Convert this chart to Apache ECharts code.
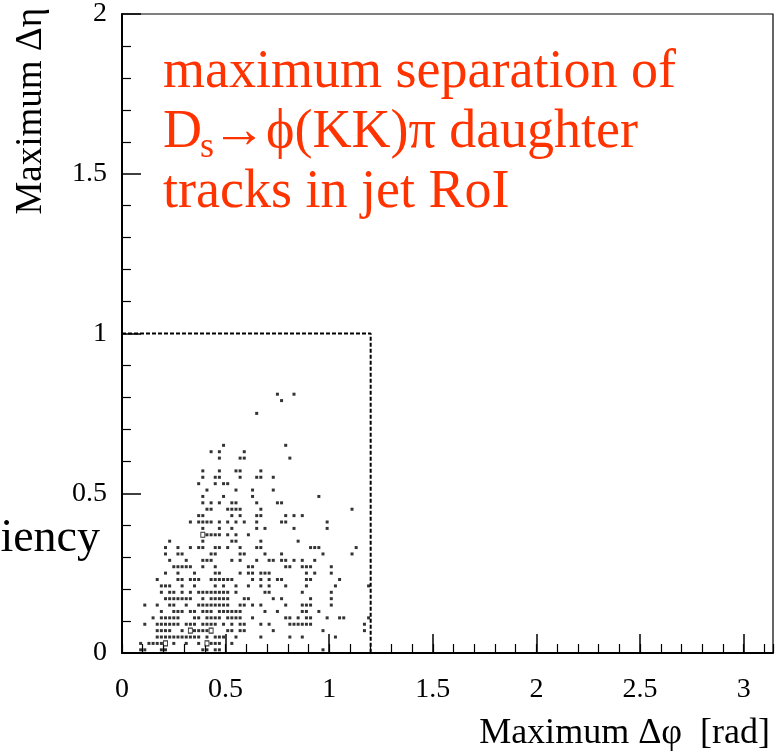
<!DOCTYPE html>
<html><head><meta charset="utf-8">
<script src="https://cdn.jsdelivr.net/npm/echarts@6/dist/echarts.min.js"></script>
<style>html,body{margin:0;padding:0;background:#fff}#c{width:778px;height:753px}</style>
</head><body><div id="c"></div>
<script>
// axis ranges / ticks
const xRange = [0, 3.1416];
const yRange = [0, 2];
const xMajor = 0.5, xMinor = 0.1;
const yMajor = 0.5;
// dashed acceptance box (Δφ < 1.2, Δη < 1)
const cutBox = [[0, 1], [1.2, 1], [1.2, 0]];
// scatter content, row by row: [Δη, [Δφ values]]
const rows = [
  [0.81, [0.75, 0.83]],
  [0.79, [0.77]],
  [0.75, [0.65]],
  [0.65, [0.49, 0.79]],
  [0.63, [0.43, 0.47, 0.59]],
  [0.61, [0.47, 0.57, 0.59, 0.81]],
  [0.57, [0.39, 0.47, 0.55, 0.57, 0.67]],
  [0.55, [0.39, 0.45, 0.47, 0.57, 0.65, 0.67, 0.73]],
  [0.53, [0.37, 0.45, 0.49, 0.51]],
  [0.51, [0.41, 0.55, 0.63, 0.73]],
  [0.49, [0.39, 0.49, 0.63, 0.95]],
  [0.47, [0.39, 0.43, 0.47, 0.53, 0.55, 0.65, 0.75, 0.77]],
  [0.45, [0.41, 0.43, 0.51, 0.53, 0.55, 0.57, 0.67, 1.11]],
  [0.43, [0.37, 0.39, 0.53, 0.57, 0.65, 0.67, 0.79, 0.83, 0.87]],
  [0.41, [0.33, 0.37, 0.39, 0.41, 0.43, 0.47, 0.51, 0.55, 0.59, 0.65, 0.77, 0.79, 0.99]],
  [0.39, [0.39, 0.47, 0.53, 0.65, 0.69, 0.83, 0.99]],
  [0.37, [0.41, 0.43, 0.45, 0.47, 0.51, 0.55, 0.61]],
  [0.35, [0.23, 0.39, 0.53, 0.55, 0.67, 0.85]],
  [0.33, [0.21, 0.27, 0.33, 0.37, 0.39, 0.45, 0.47, 0.51, 0.57, 0.65, 0.67, 0.91, 0.93, 0.95, 1.13]],
  [0.31, [0.21, 0.27, 0.29, 0.43, 0.45, 0.57, 0.59, 0.69, 0.77, 0.97, 1.11]],
  [0.29, [0.23, 0.31, 0.39, 0.41, 0.43, 0.53, 0.57, 0.65, 0.71, 0.73, 0.77, 0.79, 0.83, 0.87, 0.93]],
  [0.27, [0.25, 0.27, 0.29, 0.31, 0.33, 0.39, 0.45, 0.61, 0.63, 0.79, 0.81, 0.87, 0.89, 0.91, 1.01]],
  [0.25, [0.21, 0.27, 0.35, 0.45, 0.47, 0.57, 0.61, 0.63, 0.67, 0.69, 0.71, 0.89, 0.93, 1.01]],
  [0.23, [0.17, 0.27, 0.29, 0.33, 0.35, 0.37, 0.43, 0.45, 0.47, 0.49, 0.51, 0.53, 0.63, 0.67, 0.71, 0.75, 0.77, 0.89, 0.91, 1.05]],
  [0.21, [0.19, 0.21, 0.23, 0.29, 0.35, 0.45, 0.49, 0.55, 0.61, 0.67, 0.71, 0.79, 0.89, 1.03, 1.19]],
  [0.19, [0.19, 0.23, 0.25, 0.29, 0.33, 0.37, 0.39, 0.41, 0.43, 0.45, 0.47, 0.49, 0.51, 0.55, 0.69, 0.71, 0.87, 1.01]],
  [0.17, [0.21, 0.23, 0.25, 0.27, 0.29, 0.31, 0.33, 0.39, 0.43, 0.45, 0.47, 0.49, 0.51, 0.59, 0.61, 0.73, 0.77, 0.91, 1.01]],
  [0.15, [0.11, 0.17, 0.23, 0.25, 0.31, 0.37, 0.39, 0.41, 0.43, 0.45, 0.47, 0.49, 0.51, 0.57, 0.59, 0.63, 0.67, 0.79, 0.87, 0.89, 0.91, 1.01]],
  [0.13, [0.19, 0.25, 0.27, 0.29, 0.33, 0.35, 0.39, 0.41, 0.43, 0.47, 0.49, 0.51, 0.53, 0.55, 0.57, 0.69, 0.75, 0.87, 0.89, 0.95]],
  [0.11, [0.15, 0.19, 0.21, 0.23, 0.25, 0.27, 0.35, 0.37, 0.41, 0.43, 0.45, 0.47, 0.51, 0.53, 0.55, 0.57, 0.63, 0.79, 0.81, 0.85, 0.89, 0.91, 0.99, 1.05, 1.07, 1.19]],
  [0.09, [0.11, 0.17, 0.19, 0.21, 0.23, 0.25, 0.27, 0.31, 0.33, 0.35, 0.39, 0.41, 0.43, 0.45, 0.49, 0.53, 0.57, 0.59, 0.67, 0.71, 0.81, 0.83, 0.85, 0.87, 0.89, 0.91, 1.17]],
  [0.07, [0.17, 0.19, 0.21, 0.23, 0.29, 0.35, 0.37, 0.39, 0.41, 0.51, 0.53, 0.57, 0.59, 0.73, 0.97, 1.17]],
  [0.05, [0.17, 0.19, 0.21, 0.23, 0.25, 0.27, 0.29, 0.31, 0.33, 0.35, 0.37, 0.41, 0.45, 0.47, 0.49, 0.55, 0.67, 0.81, 0.87, 1.03]],
  [0.03, [0.09, 0.13, 0.15, 0.17, 0.19, 0.25, 0.31, 0.37, 0.43, 0.45, 0.47, 0.53]],
  [0.01, [0.09, 0.11, 0.19, 0.21, 0.39, 0.41, 0.45, 0.47, 0.97]]
];
// higher-content bins drawn as open boxes
const boxes = [[0.39, 0.37], [0.33, 0.07], [0.43, 0.07], [0.21, 0.03], [0.41, 0.03]];

const points = [];
rows.forEach(r => r[1].forEach(x => points.push([x, r[0]])));

const serif = 'Liberation Serif';
const red = '#ff3300';
const chart = echarts.init(document.getElementById('c'), null, {renderer: 'canvas'});
const axisBase = {
  type: 'value', splitLine: {show: false},
};
chart.setOption({
  animation: false,
  backgroundColor: '#fff',
  grid: {left: 122, right: 5, top: 11, bottom: 100, show: true, borderColor: '#000', borderWidth: 1.2},
  xAxis: [
    Object.assign({}, axisBase, {
      min: xRange[0], max: xRange[1], interval: xMajor, position: 'bottom',
      axisLine: {onZero: false, lineStyle: {color: '#000', width: 2}},
      axisTick: {inside: true, length: 19, lineStyle: {color: '#000', width: 1.5}},
      axisLabel: {fontFamily: serif, fontSize: 28, color: '#000', margin: 23, showMaxLabel: false,
        formatter: v => (Math.abs(v / xMajor - Math.round(v / xMajor)) < 1e-6 ? String(v) : '')}
    }),
    Object.assign({}, axisBase, {
      min: xRange[0], max: xRange[1], interval: xMinor, position: 'bottom',
      axisLine: {show: false},
      axisTick: {inside: true, length: 9, lineStyle: {color: '#000', width: 1.2}},
      axisLabel: {show: false}
    })
  ],
  yAxis: [
    Object.assign({}, axisBase, {
      min: yRange[0], max: yRange[1], interval: yMajor,
      axisLine: {onZero: false, lineStyle: {color: '#000', width: 2}},
      axisTick: {inside: true, length: 19, lineStyle: {color: '#000', width: 1.5}},
      minorTick: {show: true, splitNumber: 5, length: 9, lineStyle: {color: '#000', width: 1.2}},
      axisLabel: {fontFamily: serif, fontSize: 28, color: '#000', margin: 15}
    })
  ],
  series: [
    {type: 'line', data: cutBox, symbol: 'none', z: 1,
     lineStyle: {color: '#000', width: 2, type: [4, 2]}},
    {type: 'scatter', data: points, symbol: 'rect', symbolSize: 3, z: 3,
     itemStyle: {color: '#000'}},
    {type: 'scatter', data: boxes, symbol: 'rect', symbolSize: [4, 5], z: 4,
     itemStyle: {color: '#fff', borderColor: '#000', borderWidth: 1}}
  ],
  graphic: [
    {type: 'text', x: 770, y: 734, style: {text: 'Maximum Δφ  [rad]', font: '36px "Liberation Serif"', fill: '#000', align: 'right', verticalAlign: 'middle'}},
    {type: 'text', x: 31, y: 8, rotation: Math.PI / 2, style: {text: 'Maximum Δη', font: '37px "Liberation Serif"', fill: '#000', align: 'right', verticalAlign: 'middle'}},
    {type: 'text', x: 100, y: 539, style: {text: 'iency', font: '46px "Liberation Serif"', fill: '#000', align: 'right', verticalAlign: 'middle'}},
    {type: 'text', x: 163, y: 73, style: {text: 'maximum separation of', font: '54px "Liberation Serif"', fill: red, align: 'left', verticalAlign: 'middle'}},
    {type: 'text', x: 163, y: 133, style: {text: 'D', font: '54px "Liberation Serif"', fill: red, align: 'left', verticalAlign: 'middle'}},
    {type: 'text', x: 200, y: 148, style: {text: 's', font: '36px "Liberation Serif"', fill: red, align: 'left', verticalAlign: 'middle'}},
    {type: 'text', x: 212, y: 133, style: {text: '→ϕ(KK)π daughter', font: '54px "Liberation Serif"', fill: red, align: 'left', verticalAlign: 'middle'}},
    {type: 'text', x: 163, y: 193, style: {text: 'tracks in jet RoI', font: '54px "Liberation Serif"', fill: red, align: 'left', verticalAlign: 'middle'}}
  ]
});
</script></body></html>
